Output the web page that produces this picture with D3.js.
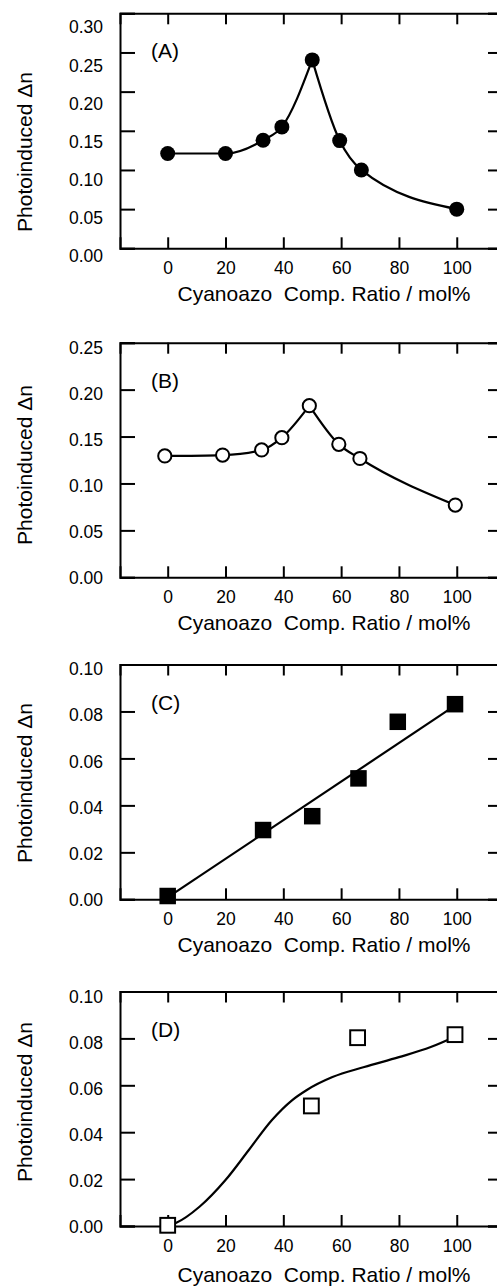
<!DOCTYPE html>
<html>
<head>
<meta charset="utf-8">
<script src="https://cdn.jsdelivr.net/npm/d3@7"></script>
<style>
  body { margin: 0; background: #fff; }
  svg { display: block; }
  text { font-family: "Liberation Sans", Arial, Helvetica, sans-serif; fill: #000; }
</style>
</head>
<body>
<svg id="fig"></svg>
<script>
// x axis (mol%) shared by all panels
const xTicks = [0, 20, 40, 60, 80, 100];

// (A) filled circles
const xA = [0, 20, 33, 39.5, 50, 59.5, 67, 100];
const yA = [0.121, 0.121, 0.138, 0.155, 0.2405, 0.1375, 0.100, 0.050];
const yTicksA = [0.00, 0.05, 0.10, 0.15, 0.20, 0.25, 0.30];

// (B) open circles
const xB = [-1, 19, 32.5, 39.5, 49, 59.2, 66.5, 99.5];
const yB = [0.1293, 0.1303, 0.1357, 0.1488, 0.1829, 0.1417, 0.1266, 0.0770];
const yTicksB = [0.00, 0.05, 0.10, 0.15, 0.20, 0.25];

// (C) filled squares + linear fit
const xC = [0, 33, 50, 66, 79.6, 99.4];
const yC = [0.0014, 0.0295, 0.0354, 0.0515, 0.0756, 0.0831];
const fitCx = [0, 100];
const fitCy = [0.0008, 0.0830];
const yTicksC = [0.00, 0.02, 0.04, 0.06, 0.08, 0.10];

// (D) open squares + fitted curve
const xD = [0, 49.7, 65.7, 99.4];
const yD = [0.0003, 0.0512, 0.0803, 0.0816];
const fitDx = [0, 3, 11, 20, 28, 36, 43, 48, 57, 68, 80, 91, 99];
const fitDy = [0.0002, 0.0014, 0.0082, 0.0196, 0.0323, 0.0451, 0.0536, 0.0579, 0.0635, 0.0678, 0.0720, 0.0763, 0.0805];
const yTicksD = [0.00, 0.02, 0.04, 0.06, 0.08, 0.10];

const xLabel = 'Cyanoazo\u00a0 Comp. Ratio / mol%';
const yLabel = 'Photoinduced \u0394n';

const W = 497, H = 1287;
const svg = d3.select('#fig').attr('width', W).attr('height', H);

const left = 120, right = 503;
const x = d3.scaleLinear().domain([-16.5, 116]).range([left, right]);

// labOff: tick label shift at [bottom, top] of the axis
const panels = [
  {tag: '(A)', xs: xA, ys: yA, ticks: yTicksA, max: 0.30, top: 13.3, bottom: 248.3,
   marker: 'circle', filled: true, split: true, labOff: [8, 14], yLabY: 152, xLabDy: 53},
  {tag: '(B)', xs: xB, ys: yB, ticks: yTicksB, max: 0.25, top: 342.7, bottom: 577.3,
   marker: 'circle', filled: false, split: true, labOff: [0.5, 5.5], yLabY: 465, xLabDy: 53},
  {tag: '(C)', xs: xC, ys: yC, ticks: yTicksC, max: 0.10, top: 664.5, bottom: 899.3,
   marker: 'square', filled: true, fitx: fitCx, fity: fitCy, labOff: [1, 4.5], yLabY: 783, xLabDy: 53},
  {tag: '(D)', xs: xD, ys: yD, ticks: yTicksD, max: 0.10, top: 991.5, bottom: 1226,
   marker: 'square', filled: false, fitx: fitDx, fity: fitDy, labOff: [1.3, 5], yLabY: 1102, xLabDy: 56}
];

function styleAxis(g) {
  g.attr('font-family', null).attr('font-size', null);
  g.select('.domain').attr('stroke', '#000').attr('stroke-width', 2);
  g.selectAll('.tick line').attr('stroke', '#000').attr('stroke-width', 2);
  g.selectAll('.tick text').style('font-size', '17.5px');
}

panels.forEach(p => {
  const y = d3.scaleLinear().domain([0, p.max]).range([p.bottom, p.top]);
  const off = d3.scaleLinear().domain([0, p.max]).range(p.labOff);

  // axes, ticks pointing inward
  svg.append('g')
    .attr('transform', `translate(${left},0)`)
    .call(d3.axisLeft(y).tickValues(p.ticks).tickFormat(d3.format('.2f')).tickSize(-15).tickPadding(17))
    .call(styleAxis)
    .selectAll('.tick text').attr('y', d => off(d));

  svg.append('g')
    .attr('transform', `translate(${right},0)`)
    .call(d3.axisRight(y).tickValues(p.ticks).tickFormat('').tickSize(-15))
    .call(styleAxis);

  svg.append('g')
    .attr('transform', `translate(0,${p.bottom})`)
    .call(d3.axisBottom(x).tickValues(xTicks).tickFormat(d3.format('d')).tickSize(-11).tickPadding(13.5))
    .call(styleAxis);

  svg.append('g')
    .attr('transform', `translate(0,${p.top})`)
    .call(d3.axisTop(x).tickValues(xTicks).tickFormat('').tickSize(-11))
    .call(styleAxis);

  // curve
  const pts = p.xs.map((d, i) => [d, p.ys[i]]);
  const line = d3.line().x(d => x(d[0])).y(d => y(d[1])).curve(d3.curveMonotoneX);
  let segs;
  if (p.split) {
    const k = d3.maxIndex(p.ys);
    segs = [pts.slice(0, k + 1), pts.slice(k)];
  } else {
    segs = [p.fitx.map((d, i) => [d, p.fity[i]])];
  }
  svg.append('g').selectAll('path')
    .data(segs)
    .join('path')
    .attr('d', line)
    .attr('fill', 'none')
    .attr('stroke', '#000')
    .attr('stroke-width', 2.2);

  // markers
  const mk = svg.append('g');
  if (p.marker === 'circle') {
    mk.selectAll('circle')
      .data(pts)
      .join('circle')
      .attr('cx', d => x(d[0]))
      .attr('cy', d => y(d[1]))
      .attr('r', p.filled ? 7.5 : 6.6)
      .attr('fill', p.filled ? '#000' : '#fff')
      .attr('stroke', '#000')
      .attr('stroke-width', p.filled ? 0 : 2);
  } else {
    const s = p.filled ? 16.5 : 14.8;
    mk.selectAll('rect')
      .data(pts)
      .join('rect')
      .attr('x', d => x(d[0]) - s / 2)
      .attr('y', d => y(d[1]) - s / 2)
      .attr('width', s)
      .attr('height', s)
      .attr('fill', p.filled ? '#000' : '#fff')
      .attr('stroke', '#000')
      .attr('stroke-width', p.filled ? 0 : 2);
  }

  // panel tag
  svg.append('text')
    .attr('x', 151)
    .attr('y', p.top + 45)
    .style('font-size', '21px')
    .text(p.tag);

  // axis titles
  svg.append('text')
    .attr('x', 324)
    .attr('y', p.bottom + p.xLabDy)
    .attr('text-anchor', 'middle')
    .style('font-size', '21px')
    .text(xLabel);

  svg.append('text')
    .attr('transform', `translate(32,${p.yLabY}) rotate(-90)`)
    .attr('text-anchor', 'middle')
    .style('font-size', '21px')
    .text(yLabel);
});
</script>
</body>
</html>
